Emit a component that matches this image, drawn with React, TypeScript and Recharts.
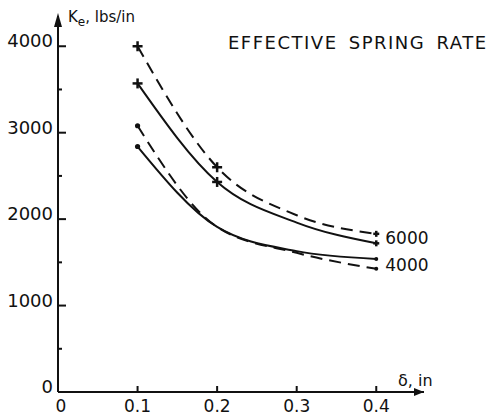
import React from "react";
import { LineChart, Line, XAxis, YAxis, ReferenceDot, LabelList } from "recharts";

// deflection (in) and effective spring rate Ke (lbs/in); 0.3 is read off the curves (no marker there)
const deflection = [0.1, 0.2, 0.3, 0.4];
const marked = [true, true, false, true];
const rate6000Dashed = [4000, 2600, 2045, 1830];
const rate6000Solid = [3570, 2430, 1960, 1720];
const rate4000Dashed = [3080, 1910, 1610, 1425];
const rate4000Solid = [2840, 1910, 1630, 1540];

const xTicks = [0, 0.1, 0.2, 0.3, 0.4];
const yTicks = [0, 500, 1000, 1500, 2000, 2500, 3000, 3500, 4000];
const curveLabels = ["6000", "4000"];

const data = deflection.map((d, i) => ({
  d,
  k6d: rate6000Dashed[i],
  k6s: rate6000Solid[i],
  k4d: rate4000Dashed[i],
  k4s: rate4000Solid[i],
}));

const INK = "#111";
const FONT = "'DejaVu Sans', sans-serif";
const LAST = deflection.length - 1;

const crossDot = (props: any) => {
  const { cx, cy, index } = props;
  if (cx == null || cy == null || !marked[index]) return <g key={`c${index}`} />;
  const s = index === LAST ? 3 : 5;
  return (
    <g key={`c${index}`}>
      <line x1={cx - s} x2={cx + s} y1={cy} y2={cy} stroke={INK} strokeWidth={2.5} />
      <line x1={cx} x2={cx} y1={cy - s} y2={cy + s} stroke={INK} strokeWidth={2.5} />
    </g>
  );
};

// the 4000 curves meet at 0.2, no dot shows there
const roundDot = (props: any) => {
  const { cx, cy, index } = props;
  if (cx == null || cy == null || !marked[index] || index === 1) return <g key={`r${index}`} />;
  return <circle key={`r${index}`} cx={cx} cy={cy} r={index === LAST ? 2 : 2.6} fill={INK} />;
};

const YTick = (props: any) => {
  const { x, y, payload } = props;
  const major = payload.value % 1000 === 0;
  return (
    <g>
      <line x1={x} x2={x + (major ? 8 : 4)} y1={y} y2={y} stroke={INK} strokeWidth={2} />
      {major && (
        <text x={x - 5} y={y + 1} textAnchor="end" fontSize={18} fontFamily={FONT} fill={INK}>
          {payload.value}
        </text>
      )}
    </g>
  );
};

const XTick = (props: any) => {
  const { x, y, payload } = props;
  return (
    <g>
      {payload.value > 0 && <line x1={x} x2={x} y1={y} y2={y - 6} stroke={INK} strokeWidth={2} />}
      <text x={payload.value === 0 ? x + 3 : x} y={y + 20} textAnchor="middle" fontSize={17} fontFamily={FONT} fill={INK}>
        {payload.value}
      </text>
    </g>
  );
};

const endLabel = (text: string, dy: number) => (props: any) => {
  const { x, y, index } = props;
  if (index !== LAST) return null;
  return (
    <text x={x + 9} y={y + dy} fontSize={17} fontFamily={FONT} fill={INK} dominantBaseline="central">
      {text}
    </text>
  );
};

const upArrow = (props: any) => {
  const { cx, cy } = props;
  return <path d={`M${cx} ${cy - 3} L${cx - 4} ${cy + 11} L${cx + 4} ${cy + 11} Z`} fill={INK} />;
};

const rightArrow = (props: any) => {
  const { cx, cy } = props;
  return <path d={`M${cx} ${cy} L${cx - 10} ${cy - 4} L${cx - 10} ${cy + 4} Z`} fill={INK} />;
};

export default function App() {
  return (
    <div style={{ position: "absolute", left: 0, top: 0, width: 491, height: 418, background: "#fff" }}>
      <LineChart width={491} height={418} data={data} margin={{ top: 16, right: 67, bottom: 0, left: 0 }}>
        <XAxis
          dataKey="d"
          type="number"
          domain={[0, 0.46]}
          ticks={xTicks}
          allowDataOverflow
          height={26}
          tickSize={0}
          tickMargin={0}
          tick={<XTick />}
          axisLine={{ stroke: INK, strokeWidth: 2 }}
          tickLine={false}
        />
        <YAxis
          type="number"
          domain={[0, 4350]}
          ticks={yTicks}
          allowDataOverflow
          width={58}
          tickSize={0}
          tickMargin={0}
          tick={<YTick />}
          axisLine={{ stroke: INK, strokeWidth: 2 }}
          tickLine={false}
        />
        <ReferenceDot x={0} y={4350} r={0} shape={upArrow} ifOverflow="visible" />
        <ReferenceDot x={0.46} y={0} r={0} shape={rightArrow} ifOverflow="visible" />
        <Line dataKey="k6d" type="monotone" stroke={INK} strokeWidth={2} strokeDasharray="12 7" dot={crossDot} isAnimationActive={false} />
        <Line dataKey="k6s" type="monotone" stroke={INK} strokeWidth={2} dot={crossDot} isAnimationActive={false}>
          <LabelList dataKey="k6s" content={endLabel(curveLabels[0], -5)} />
        </Line>
        <Line dataKey="k4d" type="monotone" stroke={INK} strokeWidth={2} strokeDasharray="12 7" dot={roundDot} isAnimationActive={false} />
        <Line dataKey="k4s" type="monotone" stroke={INK} strokeWidth={2} dot={roundDot} isAnimationActive={false}>
          <LabelList dataKey="k4s" content={endLabel(curveLabels[1], 6)} />
        </Line>
      </LineChart>
      <div style={{ position: "absolute", left: 228, top: 32, fontFamily: FONT, fontSize: 18, color: INK, letterSpacing: 1.5, wordSpacing: 4, whiteSpace: "nowrap" }}>
        EFFECTIVE SPRING RATE
      </div>
      <div style={{ position: "absolute", left: 68, top: 8, fontFamily: FONT, fontSize: 15, color: INK }}>
        K<sub style={{ fontSize: 12 }}>e</sub>, lbs/in
      </div>
      <div style={{ position: "absolute", left: 398, top: 371, fontFamily: FONT, fontSize: 16, color: INK, whiteSpace: "nowrap" }}>
        δ, in
      </div>
    </div>
  );
}
